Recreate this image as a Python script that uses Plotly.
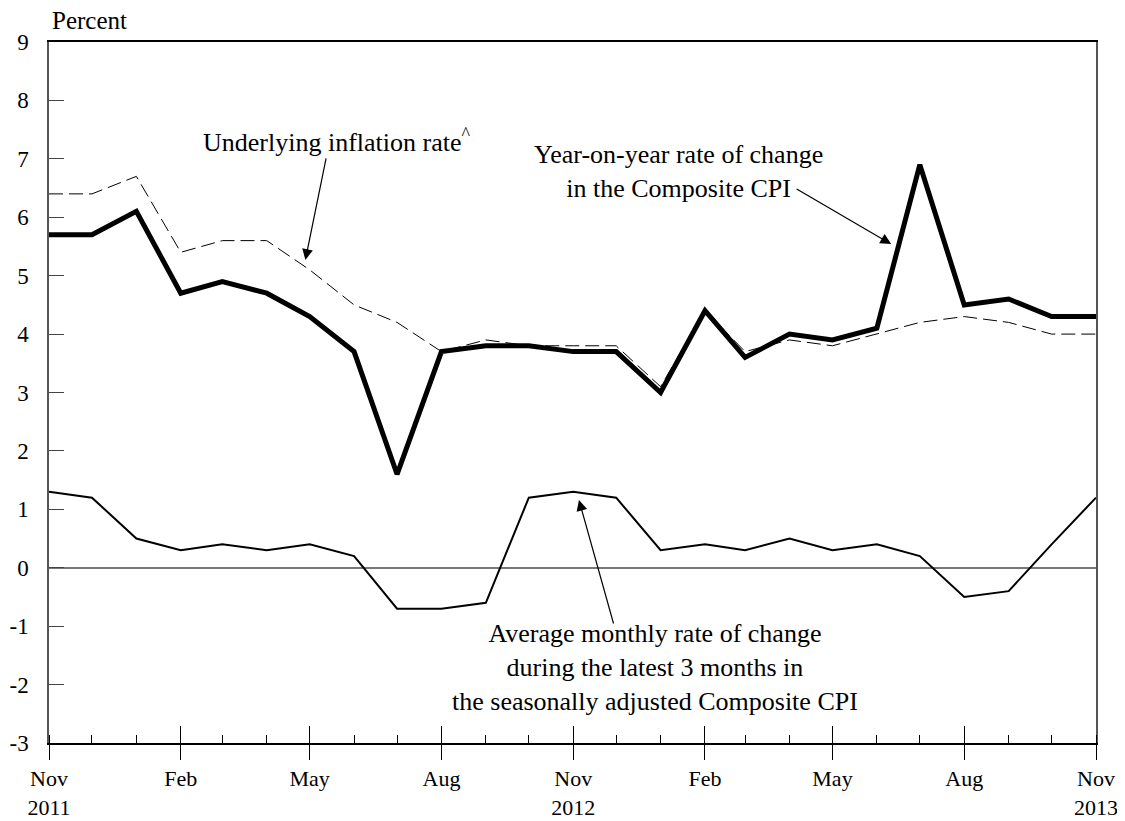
import plotly.graph_objects as go

months = ["2011-11-01", "2011-12-01", "2012-01-01", "2012-02-01", "2012-03-01", "2012-04-01",
          "2012-05-01", "2012-06-01", "2012-07-01", "2012-08-01", "2012-09-01", "2012-10-01",
          "2012-11-01", "2012-12-01", "2013-01-01", "2013-02-01", "2013-03-01", "2013-04-01",
          "2013-05-01", "2013-06-01", "2013-07-01", "2013-08-01", "2013-09-01", "2013-10-01",
          "2013-11-01"]

yoy_composite = [5.7, 5.7, 6.1, 4.7, 4.9, 4.7, 4.3, 3.7, 1.6, 3.7, 3.8, 3.8,
                 3.7, 3.7, 3.0, 4.4, 3.6, 4.0, 3.9, 4.1, 6.9, 4.5, 4.6, 4.3, 4.3]

underlying = [6.4, 6.4, 6.7, 5.4, 5.6, 5.6, 5.1, 4.5, 4.2, 3.7, 3.9, 3.8,
              3.8, 3.8, 3.1, 4.4, 3.7, 3.9, 3.8, 4.0, 4.2, 4.3, 4.2, 4.0, 4.0]

avg_3m_sa = [1.3, 1.2, 0.5, 0.3, 0.4, 0.3, 0.4, 0.2, -0.7, -0.7, -0.6, 1.2,
             1.3, 1.2, 0.3, 0.4, 0.3, 0.5, 0.3, 0.4, 0.2, -0.5, -0.4, 0.4, 1.2]

tick_vals = ["2011-11-01", "2012-02-01", "2012-05-01", "2012-08-01", "2012-11-01",
             "2013-02-01", "2013-05-01", "2013-08-01", "2013-11-01"]
tick_text = ["Nov<br>2011", "Feb", "May", "Aug", "Nov<br>2012",
             "Feb", "May", "Aug", "Nov<br>2013"]

y_ticks = list(range(-3, 10))
y_tick_text = [str(v) for v in y_ticks]

FONT = "Liberation Serif, Times New Roman, serif"

fig = go.Figure()

fig.add_trace(go.Scatter(x=months, y=underlying, mode="lines",
                         line=dict(color="black", width=1, dash="14px,6px"),
                         name="Underlying inflation rate"))
fig.add_trace(go.Scatter(x=months, y=yoy_composite, mode="lines",
                         line=dict(color="black", width=5),
                         name="Year-on-year rate of change in the Composite CPI"))
fig.add_trace(go.Scatter(x=months, y=avg_3m_sa, mode="lines",
                         line=dict(color="black", width=2),
                         name="Average monthly rate of change"))
# invisible trace for overlay axis (inside major ticks)
fig.add_trace(go.Scatter(x=[months[0], months[-1]], y=[y_ticks[0], y_ticks[0]],
                         mode="lines", line=dict(width=0), opacity=0,
                         xaxis="x2", hoverinfo="skip", showlegend=False))

# page body has an 8px default margin, so the figure is sized/offset to compensate
fig.update_layout(
    width=1117, height=813,
    margin=dict(l=41, r=29, t=34, b=78, autoexpand=False),
    paper_bgcolor="white", plot_bgcolor="white",
    showlegend=False,
    font=dict(family=FONT, size=22, color="black"),
    xaxis=dict(
        type="date", range=[months[0], months[-1]], automargin=False,
        tickmode="array", tickvals=tick_vals, ticktext=tick_text,
        ticks="outside", ticklen=15, tickwidth=1.2, tickcolor="black",
        showline=True, linecolor="black", linewidth=1.5, mirror=True,
        showgrid=False, zeroline=False,
        tickfont=dict(family=FONT, size=22),
        minor=dict(dtick="M1", tick0=months[0], ticks="inside", ticklen=8,
                   tickwidth=1.2, tickcolor="black", showgrid=False),
    ),
    xaxis2=dict(
        type="date", overlaying="x", matches="x", side="bottom", automargin=False,
        tickmode="array", tickvals=tick_vals, ticktext=[""] * len(tick_vals),
        ticks="inside", ticklen=17, tickwidth=1.2, tickcolor="black",
        showline=False, showgrid=False, zeroline=False, showticklabels=False,
    ),
    yaxis=dict(
        range=[y_ticks[0], y_ticks[-1]], automargin=False,
        tickmode="array", tickvals=y_ticks, ticktext=y_tick_text,
        ticks="inside", ticklen=15, tickwidth=1.2, tickcolor="#444",
        showline=True, linecolor="#555", linewidth=1.5, mirror=True,
        showgrid=False, zeroline=True, zerolinecolor="#777", zerolinewidth=1.5,
        ticklabelstandoff=14,
        tickfont=dict(family=FONT, size=23),
    ),
)

ann_font = dict(family=FONT, size=26, color="black")

fig.add_annotation(text="Percent", xref="paper", yref="paper", x=0.001, y=1.030,
                   xanchor="left", yanchor="middle", showarrow=False,
                   font=dict(family=FONT, size=25, color="black"))

fig.add_annotation(text="Underlying inflation rate<sup>^</sup>", xref="paper", yref="paper",
                   x=0.275, y=0.860, xanchor="center", yanchor="middle",
                   showarrow=False, font=ann_font)
fig.add_annotation(text="Year-on-year rate of change<br>in the Composite CPI",
                   xref="paper", yref="paper", x=0.601, y=0.815,
                   xanchor="center", yanchor="middle", align="center",
                   showarrow=False, font=ann_font)
fig.add_annotation(text="Average monthly rate of change<br>during the latest 3 months in<br>"
                        "the seasonally adjusted Composite CPI",
                   xref="paper", yref="paper", x=0.579, y=0.108,
                   xanchor="center", yanchor="middle", align="center",
                   showarrow=False, font=ann_font)

arrow_style = dict(showarrow=True, arrowhead=2, arrowsize=1.8, arrowwidth=1.2,
                   arrowcolor="black", text="", xref="x", yref="y")
# arrows (tips near the lines they label)
fig.add_annotation(x="2012-04-28", y=5.27, ax=21, ay=-103, **arrow_style)
fig.add_annotation(x="2013-06-11", y=5.54, ax=-96, ay=-56, **arrow_style)
fig.add_annotation(x="2012-11-05", y=1.16, ax=35, ay=125, **arrow_style)

fig.write_html("out.html")
